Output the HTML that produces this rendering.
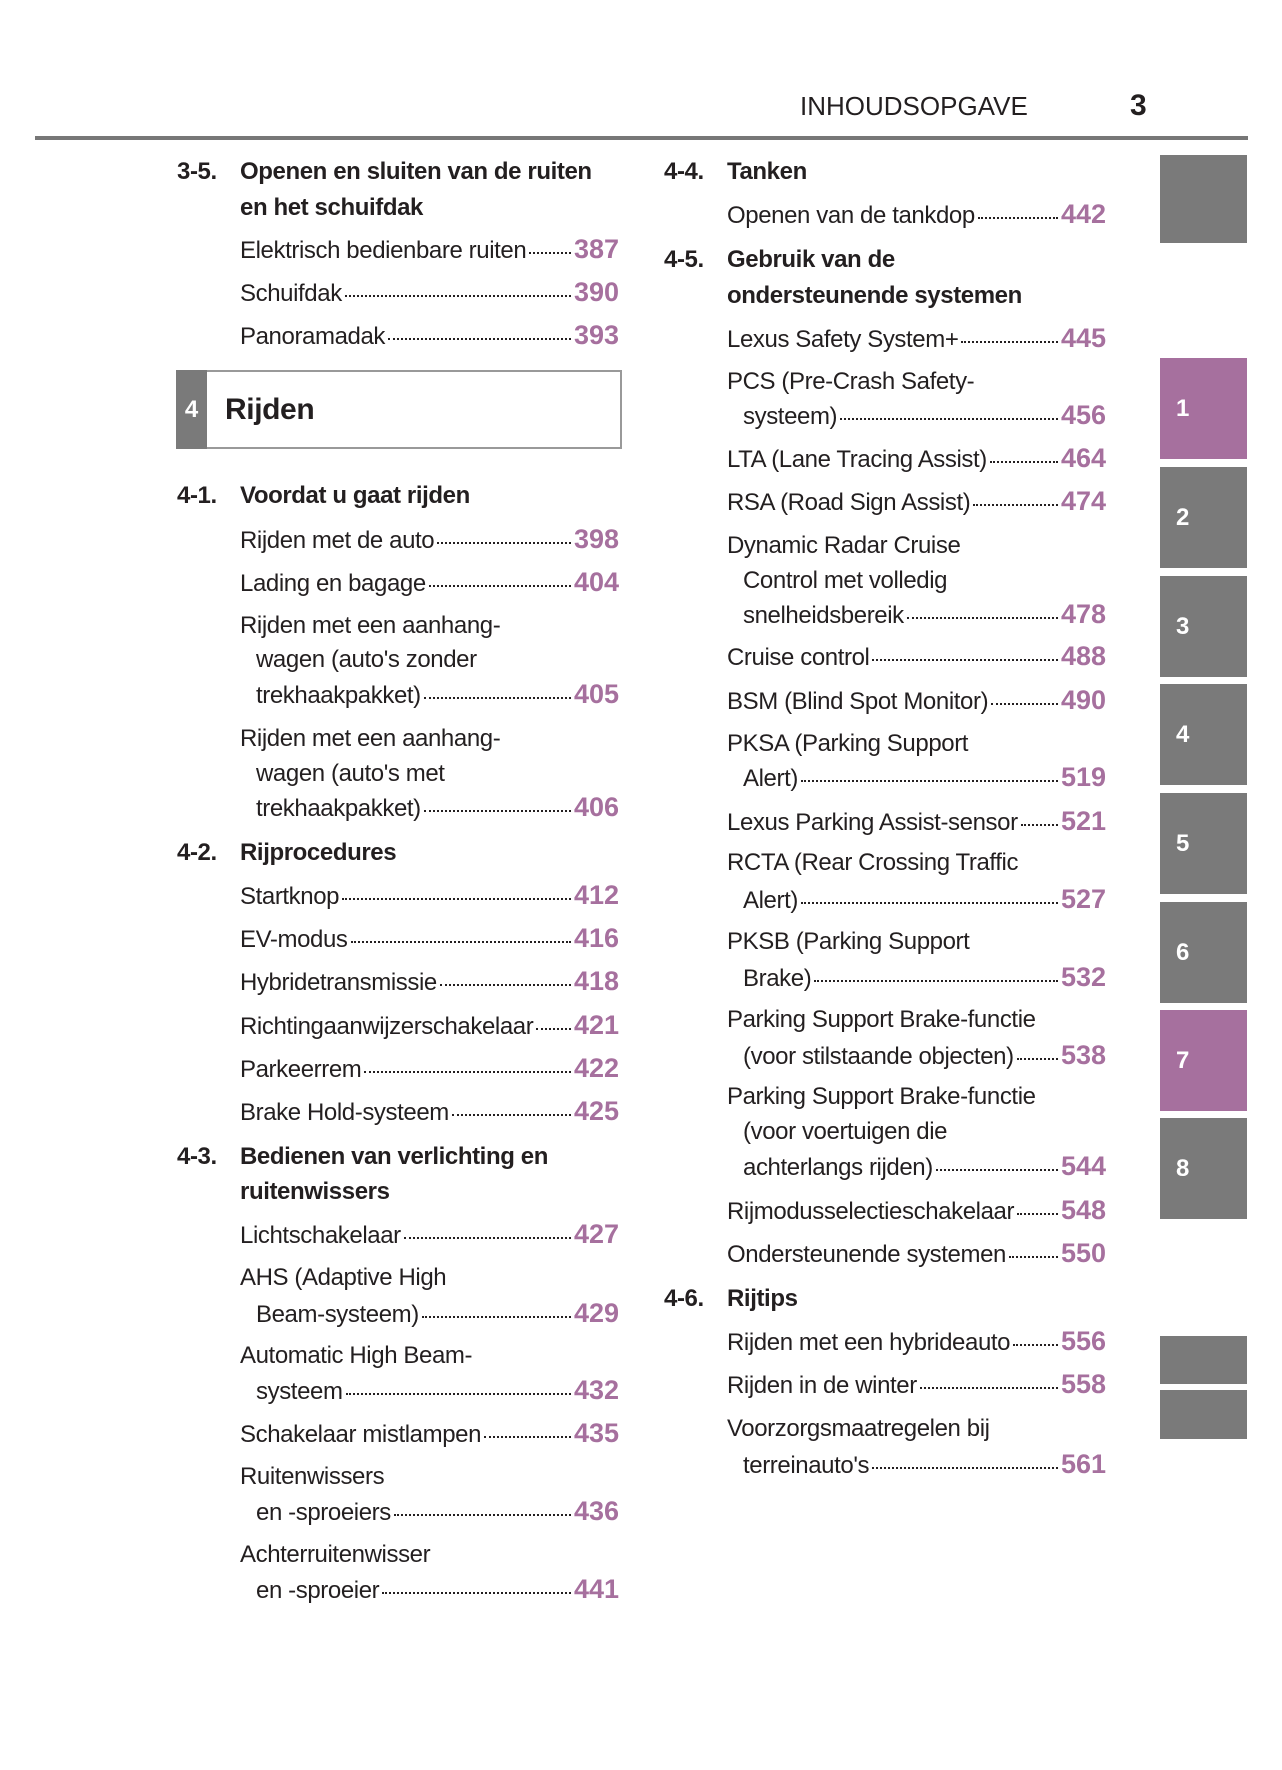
<!DOCTYPE html>
<html><head><meta charset="utf-8"><style>
*{margin:0;padding:0;box-sizing:border-box}
body{width:1282px;height:1770px;background:#fff;position:relative;overflow:hidden;font-family:"Liberation Sans",sans-serif;color:#231f20}
.a{position:absolute;white-space:nowrap;font-size:24px;line-height:30px;letter-spacing:-0.4px}
.h{font-weight:bold}
.r{display:flex;align-items:baseline}
.r i{flex:1;border-bottom:2px dotted #231f20;margin:0 3px;min-width:8px;transform:translateY(-4px)}
.r b{color:#a6709e;font-size:27px;letter-spacing:0}
.tab{position:absolute;left:1160px;width:87px;height:101px;background:#7a7a7a;color:#fff;font-weight:bold;font-size:24px;padding-left:16px;line-height:101px}
.p{background:#a6709e}
</style></head><body>
<div class="a" style="left:800px;top:91px;font-size:26px;letter-spacing:0">INHOUDSOPGAVE</div>
<div class="a h" style="left:1130px;top:91px;font-size:30px">3</div>
<div style="position:absolute;left:35px;top:136px;width:1213px;height:4px;background:#777"></div>

<div class="tab" style="top:155px;height:88px"></div>
<div class="tab p" style="top:358px">1</div>
<div class="tab" style="top:467px">2</div>
<div class="tab" style="top:576px">3</div>
<div class="tab" style="top:684px">4</div>
<div class="tab" style="top:793px">5</div>
<div class="tab" style="top:902px">6</div>
<div class="tab p" style="top:1010px">7</div>
<div class="tab" style="top:1118px">8</div>
<div class="tab" style="top:1336px;height:48px"></div>
<div class="tab" style="top:1390px;height:49px"></div>

<div style="position:absolute;left:176px;top:370px;width:446px;height:79px;border:2px solid #999"></div>
<div style="position:absolute;left:176px;top:370px;width:31px;height:79px;background:#7a7a7a;color:#fff;font-weight:bold;font-size:24px;line-height:79px;text-align:center">4</div>
<div class="a h" style="left:225px;top:393px;font-size:30px;line-height:34px">Rijden</div>

<!-- left column -->
<div class="a h" style="left:177px;top:157px">3-5.</div>
<div class="a h" style="left:240px;top:157px">Openen en sluiten van de ruiten</div>
<div class="a h" style="left:240px;top:193px">en het schuifdak</div>
<div class="a r" style="left:240px;top:234px;width:379px"><span>Elektrisch bedienbare ruiten</span><i></i><b>387</b></div>
<div class="a r" style="left:240px;top:277px;width:379px"><span>Schuifdak</span><i></i><b>390</b></div>
<div class="a r" style="left:240px;top:320px;width:379px"><span>Panoramadak</span><i></i><b>393</b></div>

<div class="a h" style="left:177px;top:481px">4-1.</div>
<div class="a h" style="left:240px;top:481px">Voordat u gaat rijden</div>
<div class="a r" style="left:240px;top:524px;width:379px"><span>Rijden met de auto</span><i></i><b>398</b></div>
<div class="a r" style="left:240px;top:567px;width:379px"><span>Lading en bagage</span><i></i><b>404</b></div>
<div class="a" style="left:240px;top:611px">Rijden met een aanhang-</div>
<div class="a" style="left:256px;top:645px">wagen (auto's zonder</div>
<div class="a r" style="left:256px;top:679px;width:363px"><span>trekhaakpakket)</span><i></i><b>405</b></div>
<div class="a" style="left:240px;top:724px">Rijden met een aanhang-</div>
<div class="a" style="left:256px;top:759px">wagen (auto's met</div>
<div class="a r" style="left:256px;top:792px;width:363px"><span>trekhaakpakket)</span><i></i><b>406</b></div>

<div class="a h" style="left:177px;top:838px">4-2.</div>
<div class="a h" style="left:240px;top:838px">Rijprocedures</div>
<div class="a r" style="left:240px;top:880px;width:379px"><span>Startknop</span><i></i><b>412</b></div>
<div class="a r" style="left:240px;top:923px;width:379px"><span>EV-modus</span><i></i><b>416</b></div>
<div class="a r" style="left:240px;top:966px;width:379px"><span>Hybridetransmissie</span><i></i><b>418</b></div>
<div class="a r" style="left:240px;top:1010px;width:379px"><span>Richtingaanwijzerschakelaar</span><i></i><b>421</b></div>
<div class="a r" style="left:240px;top:1053px;width:379px"><span>Parkeerrem</span><i></i><b>422</b></div>
<div class="a r" style="left:240px;top:1096px;width:379px"><span>Brake Hold-systeem</span><i></i><b>425</b></div>

<div class="a h" style="left:177px;top:1142px">4-3.</div>
<div class="a h" style="left:240px;top:1142px">Bedienen van verlichting en</div>
<div class="a h" style="left:240px;top:1177px">ruitenwissers</div>
<div class="a r" style="left:240px;top:1219px;width:379px"><span>Lichtschakelaar</span><i></i><b>427</b></div>
<div class="a" style="left:240px;top:1263px">AHS (Adaptive High</div>
<div class="a r" style="left:256px;top:1298px;width:363px"><span>Beam-systeem)</span><i></i><b>429</b></div>
<div class="a" style="left:240px;top:1341px">Automatic High Beam-</div>
<div class="a r" style="left:256px;top:1375px;width:363px"><span>systeem</span><i></i><b>432</b></div>
<div class="a r" style="left:240px;top:1418px;width:379px"><span>Schakelaar mistlampen</span><i></i><b>435</b></div>
<div class="a" style="left:240px;top:1462px">Ruitenwissers</div>
<div class="a r" style="left:256px;top:1496px;width:363px"><span>en -sproeiers</span><i></i><b>436</b></div>
<div class="a" style="left:240px;top:1540px">Achterruitenwisser</div>
<div class="a r" style="left:256px;top:1574px;width:363px"><span>en -sproeier</span><i></i><b>441</b></div>

<!-- right column -->
<div class="a h" style="left:664px;top:157px">4-4.</div>
<div class="a h" style="left:727px;top:157px">Tanken</div>
<div class="a r" style="left:727px;top:199px;width:379px"><span>Openen van de tankdop</span><i></i><b>442</b></div>
<div class="a h" style="left:664px;top:245px">4-5.</div>
<div class="a h" style="left:727px;top:245px">Gebruik van de</div>
<div class="a h" style="left:727px;top:281px">ondersteunende systemen</div>
<div class="a r" style="left:727px;top:323px;width:379px"><span>Lexus Safety System+</span><i></i><b>445</b></div>
<div class="a" style="left:727px;top:367px">PCS (Pre-Crash Safety-</div>
<div class="a r" style="left:743px;top:400px;width:363px"><span>systeem)</span><i></i><b>456</b></div>
<div class="a r" style="left:727px;top:443px;width:379px"><span>LTA (Lane Tracing Assist)</span><i></i><b>464</b></div>
<div class="a r" style="left:727px;top:486px;width:379px"><span>RSA (Road Sign Assist)</span><i></i><b>474</b></div>
<div class="a" style="left:727px;top:531px">Dynamic Radar Cruise</div>
<div class="a" style="left:743px;top:566px">Control met volledig</div>
<div class="a r" style="left:743px;top:599px;width:363px"><span>snelheidsbereik</span><i></i><b>478</b></div>
<div class="a r" style="left:727px;top:641px;width:379px"><span>Cruise control</span><i></i><b>488</b></div>
<div class="a r" style="left:727px;top:685px;width:379px"><span>BSM (Blind Spot Monitor)</span><i></i><b>490</b></div>
<div class="a" style="left:727px;top:729px">PKSA (Parking Support</div>
<div class="a r" style="left:743px;top:762px;width:363px"><span>Alert)</span><i></i><b>519</b></div>
<div class="a r" style="left:727px;top:806px;width:379px"><span>Lexus Parking Assist-sensor</span><i></i><b>521</b></div>
<div class="a" style="left:727px;top:848px">RCTA (Rear Crossing Traffic</div>
<div class="a r" style="left:743px;top:884px;width:363px"><span>Alert)</span><i></i><b>527</b></div>
<div class="a" style="left:727px;top:927px">PKSB (Parking Support</div>
<div class="a r" style="left:743px;top:962px;width:363px"><span>Brake)</span><i></i><b>532</b></div>
<div class="a" style="left:727px;top:1005px">Parking Support Brake-functie</div>
<div class="a r" style="left:743px;top:1040px;width:363px"><span>(voor stilstaande objecten)</span><i></i><b>538</b></div>
<div class="a" style="left:727px;top:1082px">Parking Support Brake-functie</div>
<div class="a" style="left:743px;top:1117px">(voor voertuigen die</div>
<div class="a r" style="left:743px;top:1151px;width:363px"><span>achterlangs rijden)</span><i></i><b>544</b></div>
<div class="a r" style="left:727px;top:1195px;width:379px"><span>Rijmodusselectieschakelaar</span><i></i><b>548</b></div>
<div class="a r" style="left:727px;top:1238px;width:379px"><span>Ondersteunende systemen</span><i></i><b>550</b></div>
<div class="a h" style="left:664px;top:1284px">4-6.</div>
<div class="a h" style="left:727px;top:1284px">Rijtips</div>
<div class="a r" style="left:727px;top:1326px;width:379px"><span>Rijden met een hybrideauto</span><i></i><b>556</b></div>
<div class="a r" style="left:727px;top:1369px;width:379px"><span>Rijden in de winter</span><i></i><b>558</b></div>
<div class="a" style="left:727px;top:1414px">Voorzorgsmaatregelen bij</div>
<div class="a r" style="left:743px;top:1449px;width:363px"><span>terreinauto's</span><i></i><b>561</b></div>
</body></html>
